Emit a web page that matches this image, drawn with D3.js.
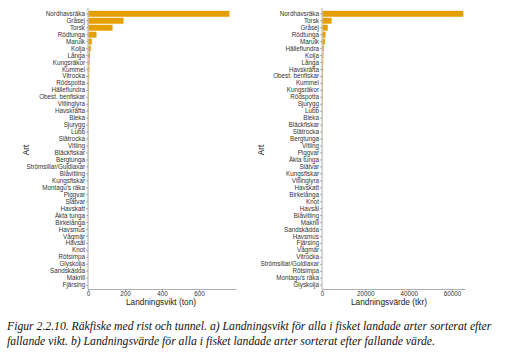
<!DOCTYPE html>
<html><head><meta charset="utf-8">
<script src="https://cdn.jsdelivr.net/npm/d3@7"></script>
<style>body{margin:0;background:#fff}svg{display:block}</style>
</head><body>
<script>
const artA = ["Nordhavsräka","Gråsej","Torsk","Rödtunga","Marulk","Kolja","Långa","Kungsräkor","Kummel","Vitrocka","Rödspotta","Hälleflundra","Obest. benfiskar","Vitlinglyra","Havskräfta","Bleka","Sjurygg","Lubb","Slätrocka","Vitling","Bläckfiskar","Bergtunga","Strömsillar/Guldlaxar","Blåvitling","Kungsfiskar","Montagu's räka","Piggvar","Slätvar","Havskatt","Äkta tunga","Birkelånga","Havsmus","Vågmär","Havsål","Knot","Rötsimpa","Glyskolja","Sandskädda","Makrill","Fjärsing"];
const viktA = [762,189,130,43,18,12,8,6,5,4,3.5,3,2.8,2.5,2.2,2,1.8,1.6,1.4,1.2,1.1,1.0,0.9,0.8,0.7,0.6,0.55,0.5,0.45,0.4,0.35,0.3,0.25,0.22,0.2,0.15,0.12,0.1,0.08,0.05];
const ticksA = [0,200,400,600];

const artB = ["Nordhavsräka","Torsk","Gråsej","Rödtunga","Marulk","Hälleflundra","Kolja","Långa","Havskräfta","Obest. benfiskar","Kummel","Kungsräkor","Rödspotta","Sjurygg","Lubb","Bleka","Bläckfiskar","Slätrocka","Bergtunga","Vitling","Piggvar","Äkta tunga","Slätvar","Kungsfiskar","Vitlinglyra","Havskatt","Birkelånga","Knot","Havsål","Blåvitling","Makrill","Sandskädda","Havsmus","Fjärsing","Vågmär","Vitrocka","Strömsillar/Guldlaxar","Rötsimpa","Montagu's räka","Glyskolja"];
const vardeB = [65000,4200,2400,1400,1100,600,450,350,300,250,220,200,180,150,130,120,100,90,80,70,60,55,50,45,40,35,30,26,22,19,16,13,11,9,7,5,4,3,2,1];
const ticksB = [0,20000,40000,60000];

const captionLines = ["Figur 2.2.10. Räkfiske med rist och tunnel. a) Landningsvikt för alla i fisket landade arter sorterat efter",
"fallande vikt. b) Landningsvärde för alla i fisket landade arter sorterat efter fallande värde."];

const svg = d3.select("body").append("svg").attr("width",508).attr("height",361);
const barColor = "#E69F00";

function panel(cats, vals, ticks, dom, x0, x1, title, artX, titleX){
  const g = svg.append("g");
  const x = d3.scaleLinear().domain(dom).range([x0, x1]);
  const y = d3.scaleBand().domain(cats).range([10.5, 288.5]).paddingInner(0.15).paddingOuter(0.05);
  g.selectAll("rect").data(cats).join("rect")
    .attr("x", x(0)+0.5).attr("y", d=>y(d))
    .attr("width", (d,i)=>Math.max(0, x(vals[i])-x(0)))
    .attr("height", y.bandwidth()).attr("fill", barColor);
  const ya = g.append("g").attr("transform",`translate(${x0},0)`)
    .call(d3.axisLeft(y).tickSize(2).tickPadding(1).tickSizeOuter(0));
  ya.select(".domain").attr("d", `M0,8V289`);
  const xa = g.append("g").attr("transform","translate(0,289)")
    .call(d3.axisBottom(x).tickValues(ticks).tickSize(2).tickPadding(0.5).tickSizeOuter(0).tickFormat(d3.format("d")));
  [ya, xa].forEach(a=>{
    a.select(".domain").attr("stroke","#999").attr("stroke-width",0.8);
    a.selectAll(".tick line").attr("stroke","#999").attr("stroke-width",0.8);
    a.selectAll("text").attr("font-family","Liberation Sans, Arial, sans-serif").attr("font-size",6.3).attr("fill","#333");
  });
  g.append("text").attr("x", titleX).attr("y", 305).attr("text-anchor","middle")
    .attr("font-family","Liberation Sans, Arial, sans-serif").attr("font-size",8.3).attr("fill","#222").text(title);
  g.append("text").attr("transform",`translate(${artX},150) rotate(-90)`).attr("text-anchor","middle")
    .attr("font-family","Liberation Sans, Arial, sans-serif").attr("font-size",8.3).attr("fill","#222").text("Art");
}
panel(artA, viktA, ticksA, [0,800], 88, 236, "Landningsvikt (ton)", 29, 161);
panel(artB, vardeB, ticksB, [0,66000], 322, 465, "Landningsvärde (tkr)", 264, 389);

svg.selectAll("text.cap").data(captionLines).join("text").attr("class","cap")
  .attr("x", 7).attr("y",(d,i)=>330+i*15)
  .attr("font-family","Liberation Serif, Times New Roman, serif").attr("font-style","italic")
  .attr("font-size",11.7).attr("fill","#111").text(d=>d);
</script>
</body></html>
